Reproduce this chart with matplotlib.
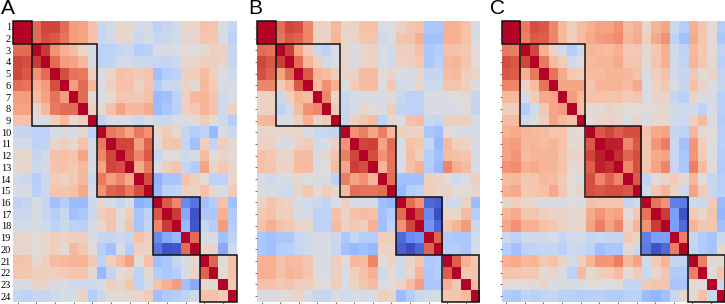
import numpy as np
import matplotlib
matplotlib.use("Agg")
from matplotlib import pyplot as plt
from matplotlib.patches import Rectangle

W, H = 725, 304

row_labels = [str(i) for i in range(1, 25)]
block_sizes = [2, 7, 6, 5, 4]

# upper triangles, one row per variable, in percent
panel_a = [
    [100, 95, 65, 78, 78, 65, 45, 42, 25, -15, -8, 8, 8, -8, -5, -20, -15, -8, 10, 10, 25, 22, -3, -15],
    [100, 65, 75, 72, 62, 45, 42, 25, -15, -8, 8, 8, -12, -5, -15, -13, -8, 8, 8, 22, 20, -3, -20],
    [100, 82, 50, 35, 28, 10, -3, -20, -20, -15, -12, -25, -22, -3, -3, -5, 3, 0, 5, 15, 12, -15],
    [100, 65, 45, 42, 30, -3, -20, -18, -8, -8, -12, -12, -15, -15, -10, 8, 10, 15, 15, 10, -15],
    [100, 75, 62, 60, 15, -5, 10, 25, 22, 18, 22, -35, -25, -20, 15, 15, 28, 15, -3, -10],
    [100, 45, 65, 30, -3, 15, 25, 25, 12, 22, -25, -12, -12, 12, 5, 30, 18, -3, -5],
    [100, 65, 5, -3, 5, 22, 20, 20, 25, -38, -35, -20, 15, 30, 32, 22, -10, -5],
    [100, 15, 8, 25, 42, 30, 30, 38, -38, -30, -22, 15, 20, 32, 22, -10, 12],
    [100, -20, -5, -5, -3, -12, -5, -12, -12, -5, -5, 3, 18, 5, -10, -25],
    [100, 60, 55, 42, 60, 50, 8, 18, 8, -15, -25, -20, -40, -5, -12],
    [100, 78, 78, 45, 68, -3, 22, 22, -15, -35, 15, -18, 15, 5],
    [100, 75, 55, 72, -15, 0, 2, -10, -5, 28, 2, 10, 5],
    [100, 38, 60, -5, 15, 22, -15, -25, 42, 10, 20, 8],
    [100, 75, -45, -32, -32, 25, 15, 3, -20, -20, 10],
    [100, -40, -20, -18, 15, 12, 25, 5, -5, 18],
    [100, 72, 55, -65, -75, -35, -25, 25, -35],
    [100, 82, -50, -90, -30, -30, 35, -28],
    [100, -40, -88, -15, -25, 45, -25],
    [100, 65, -3, -5, -35, -20],
    [100, 8, 12, -50, -10],
    [100, 68, 5, 25],
    [100, 5, 25],
    [100, 18],
    [100],
]

panel_b = [
    [100, 95, 65, 78, 75, 55, 12, 12, 30, 10, 12, 25, 25, -5, -2, 12, 20, 25, -30, -30, 35, 35, 25, -5],
    [100, 62, 72, 68, 55, 12, 12, 32, 8, 12, 20, 22, -10, -3, 22, 25, 35, -35, -35, 35, 35, 25, -3],
    [100, 80, 42, 18, -12, -20, -3, 10, -3, 10, 12, -5, -8, 15, 15, 25, -30, -25, 25, 25, 20, 3],
    [100, 65, 32, 15, -8, -3, 10, -3, 10, 12, -5, -10, 12, 15, 20, -30, -22, 30, 32, 22, 3],
    [100, 72, 32, 28, 15, 10, 12, 28, 28, 5, 10, -5, -3, 10, -15, -15, 28, 30, 15, 10],
    [100, 28, 50, 35, -3, 18, 28, 28, 0, 20, -8, -5, 8, -10, -10, 22, 22, 15, -5],
    [100, 55, 10, -12, -8, -3, -3, -3, 3, -12, -20, -20, -5, -3, -3, 0, 5, -15],
    [100, 18, -15, -5, 10, 3, -3, 15, -18, -20, -20, -5, -3, -3, -3, 2, -15],
    [100, -15, 15, 22, 28, -20, 8, -3, 25, 28, -12, -15, 15, 15, 15, -3],
    [100, 50, 58, 40, 58, 30, 15, 12, 12, -30, -35, 3, -3, -5, -8],
    [100, 78, 80, 42, 65, -5, 25, 20, -15, -40, 30, 15, 12, -5],
    [100, 75, 50, 62, -5, 28, 15, -25, -35, 28, 25, 22, -5],
    [100, 32, 62, -5, 25, 35, -25, -40, 55, 35, 28, -3],
    [100, 65, -35, -35, -35, 15, 12, 3, -10, -3, 15],
    [100, -40, -25, -20, 15, 10, 12, 3, 3, 10],
    [100, 65, 50, -80, -85, -10, -10, 12, -38],
    [100, 78, -65, -92, 10, 8, 28, -25],
    [100, -60, -82, 22, 32, 45, -12],
    [100, 68, -28, -30, -30, -8],
    [100, -25, -25, -30, -5],
    [100, 70, 35, 20],
    [100, 20, 22],
    [100, 28],
    [100],
]

panel_c = [
    [100, 95, 60, 75, 72, 55, 30, 15, 28, 35, 42, 42, 50, 28, 35, 10, 32, 40, -12, -25, 35, 22, 3, -25],
    [100, 58, 72, 70, 55, 30, 15, 28, 38, 45, 48, 52, 30, 38, 15, 38, 50, -20, -35, 38, 22, 3, -30],
    [100, 78, 35, 12, -8, -25, -10, 32, 30, 28, 35, 20, 20, 8, 20, 35, -10, -20, 30, 20, 2, -18],
    [100, 60, 28, 18, -10, 2, 30, 32, 32, 38, 22, 22, 5, 22, 35, -10, -18, 32, 20, 5, -22],
    [100, 62, 38, 20, 15, 28, 28, 32, 32, 30, 25, -3, 15, 25, -8, -15, 20, 5, 10, -18],
    [100, 40, 40, 40, 22, 32, 32, 32, 28, 38, -3, 12, 20, -5, -15, 25, 10, -3, -15],
    [100, 45, 30, 25, 25, 22, 25, 18, 22, -3, 12, 12, -15, -22, 12, -3, -3, -22],
    [100, 25, 5, 5, 12, 5, 3, 3, 2, 5, 8, -8, -10, -8, -20, -3, -22],
    [100, 3, 10, 12, 10, -3, 12, -5, 8, 8, -8, -12, 15, 28, -3, -25],
    [100, 72, 78, 70, 75, 75, 25, 38, 42, -15, -20, 32, 5, 2, -22],
    [100, 88, 88, 55, 72, 22, 48, 58, -12, -35, 48, 15, 2, -22],
    [100, 85, 68, 75, 22, 38, 42, -15, -30, 48, 18, -2, -25],
    [100, 55, 75, 22, 42, 55, -15, -30, 58, 28, 2, -28],
    [100, 72, -18, 3, 12, 18, 5, 30, 3, -15, -22],
    [100, -8, 20, 32, 12, -12, 42, 18, -15, -22],
    [100, 62, 50, -70, -72, -10, -12, 18, -38],
    [100, 82, -55, -90, 18, 8, 22, -42],
    [100, -55, -80, 32, 22, 22, -35],
    [100, 58, -15, -28, -32, -12],
    [100, -18, -28, -32, 8],
    [100, 58, 5, 5],
    [100, 3, 25],
    [100, -12],
    [100],
]

panel_names = ["A", "B", "C"]


def to_matrix(rows):
    n = len(rows)
    m = np.zeros((n, n))
    for i, row in enumerate(rows):
        m[i, i:] = row
        m[i:, i] = row
    return m / 100


def add_panel(fig, rows, name, left, right, name_x, show_labels):
    ax = fig.add_axes([left / W, 1 - 302 / H, (right - left) / W, 281 / H])
    ax.imshow(to_matrix(rows), cmap="coolwarm", vmin=-0.93, vmax=0.93, aspect="auto",
              interpolation="nearest")
    start = 0
    for size in block_sizes:
        ax.add_patch(Rectangle((start - 0.5, start - 0.5), size, size, fill=False,
                               edgecolor="#111111", linewidth=1.1, clip_on=False))
        start += size
    for s in ax.spines.values():
        s.set_visible(False)
    ax.set_xticks(np.arange(0, 24, 2))
    ax.set_xticklabels([])
    ax.set_yticks(np.arange(24))
    if show_labels:
        ax.set_yticklabels(row_labels, fontfamily="Liberation Serif", fontsize=7.5)
        ax.tick_params(axis="y", length=0, pad=1.5)
    else:
        ax.set_yticklabels([])
        ax.tick_params(axis="y", length=1.5, width=0.6, color="#555555", pad=1)
    ax.tick_params(axis="x", length=2, width=0.5, color="#333333")
    fig.text(name_x / W, 1 - 8 / H, name, fontfamily="Liberation Sans", fontsize=15,
             ha="left", va="center", color="black")


fig = plt.figure(figsize=(W / 100, H / 100), dpi=100)
add_panel(fig, panel_a, panel_names[0], 13, 237, 1, True)
add_panel(fig, panel_b, panel_names[1], 257, 479.5, 248, False)
add_panel(fig, panel_c, panel_names[2], 501.5, 725, 490, False)
fig.savefig("out.png", dpi=100)
